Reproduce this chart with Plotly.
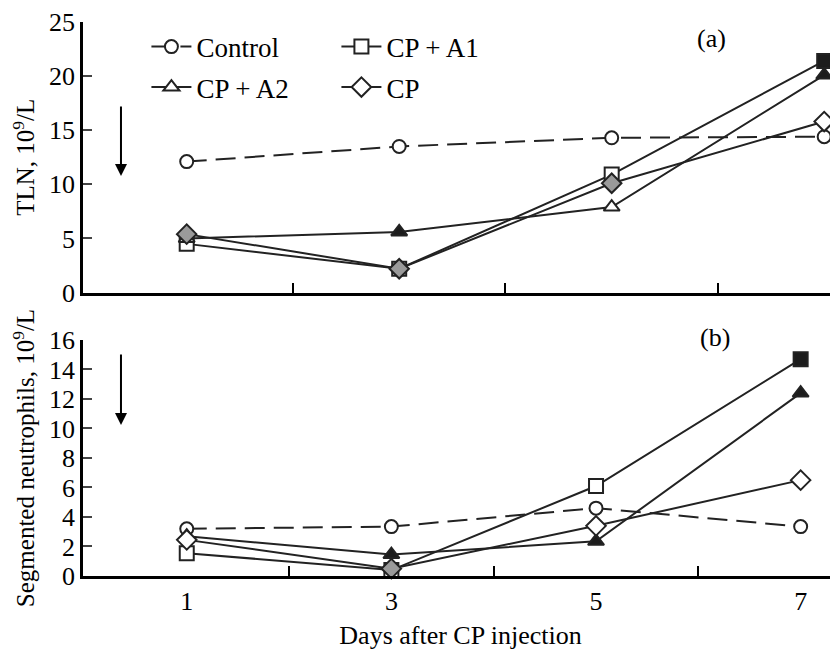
import plotly.graph_objects as go

days = [1, 3, 5, 7]
series_names = ["Control", "CP + A1", "CP + A2", "CP"]

# Panel (a): TLN, 10^9/L
tln_control = [12.1, 13.5, 14.3, 14.4]
tln_cp_a1 = [4.5, 2.2, 10.9, 21.4]
tln_cp_a2 = [5.0, 5.6, 7.9, 20.1]
tln_cp = [5.4, 2.2, 10.1, 15.8]

# Panel (b): Segmented neutrophils, 10^9/L
neu_control = [3.2, 3.35, 4.6, 3.35]
neu_cp_a1 = [1.55, 0.4, 6.1, 14.7]
neu_cp_a2 = [2.7, 1.45, 2.35, 12.4]
neu_cp = [2.45, 0.5, 3.4, 6.5]

y_ticks_a = [0, 5, 10, 15, 20, 25]
y_ticks_b = [0, 2, 4, 6, 8, 10, 12, 14, 16]
x_labels = [1, 3, 5, 7]
x_minor_ticks = [2, 4, 6]

# marker fill styles per point (open / gray / black)
W, G, K = "white", "#9a9a9a", "#1c1c1c"
fill_a = {
    "Control": [W, W, W, W],
    "CP + A1": [W, W, W, K],
    "CP + A2": [W, K, W, K],
    "CP": [G, G, G, W],
}
fill_b = {
    "Control": [W, W, W, W],
    "CP + A1": [W, W, W, K],
    "CP + A2": [W, K, K, K],
    "CP": [W, G, W, W],
}
symbols = {"Control": "circle", "CP + A1": "square", "CP + A2": "triangle-up", "CP": "diamond"}
sizes = {"Control": 13, "CP + A1": 14, "CP + A2": 14, "CP": 15}
dashes = {"Control": "20px,9px", "CP + A1": "solid", "CP + A2": "solid", "CP": "solid"}
legend_of = {"Control": "legend", "CP + A1": "legend", "CP + A2": "legend2", "CP": "legend2"}

data_a = dict(zip(series_names, [tln_control, tln_cp_a1, tln_cp_a2, tln_cp]))
data_b = dict(zip(series_names, [neu_control, neu_cp_a1, neu_cp_a2, neu_cp]))

LC = "#222222"
FONT = "Liberation Serif"

fig = go.Figure()
for name in series_names:
    fig.add_trace(go.Scatter(
        x=days, y=data_a[name], mode="lines+markers", name=name,
        xaxis="x2", yaxis="y2", showlegend=False, cliponaxis=False,
        line=dict(color=LC, width=2, dash=dashes[name]),
        marker=dict(symbol=symbols[name], size=sizes[name], color=fill_a[name],
                    line=dict(color=LC, width=2)),
    ))
for name in series_names:
    fig.add_trace(go.Scatter(
        x=days, y=data_b[name], mode="lines+markers", name=name,
        xaxis="x", yaxis="y", legend=legend_of[name], cliponaxis=False,
        line=dict(color=LC, width=2, dash=dashes[name]),
        marker=dict(symbol=symbols[name], size=sizes[name], color=fill_b[name],
                    line=dict(color=LC, width=2)),
    ))

axis_common = dict(showline=True, linecolor="black", linewidth=2.5, showgrid=False,
                   zeroline=False, tickfont=dict(family=FONT, size=26, color="black"))

legend_common = dict(orientation="h", xanchor="left", yanchor="top",
                     font=dict(family=FONT, size=27, color="black"),
                     bgcolor="rgba(0,0,0,0)", entrywidth=135, entrywidthmode="pixels",
                     tracegroupgap=0, itemwidth=40)

minor_ticks = dict(tickmode="array", tickvals=x_minor_ticks, ticks="inside",
                   ticklen=10, tickwidth=2, tickcolor="black")

fig.update_layout(
    width=830, height=642,
    margin=dict(l=75, r=0, t=11, b=70),
    paper_bgcolor="white", plot_bgcolor="white",
    font=dict(family=FONT, color="black"),
    xaxis=dict(**axis_common, domain=[0, 1], anchor="y", range=[-0.014, 7.365],
               tickmode="array", tickvals=x_labels, ticks="", minor=minor_ticks,
               title=dict(text="Days after CP injection", font=dict(family=FONT, size=26), standoff=16)),
    yaxis=dict(**axis_common, domain=[0, 0.426], anchor="x", range=[0, 16],
               tickmode="array", tickvals=y_ticks_b, ticks="inside", ticklen=9, tickwidth=2,
               title=dict(text="Segmented neutrophils, 10<sup>9</sup>/L",
                          font=dict(family=FONT, size=25), standoff=10)),
    xaxis2=dict(**axis_common, domain=[0, 1], anchor="y2", range=[0.024, 7.13],
                tickmode="array", tickvals=x_labels, ticks="", showticklabels=False,
                minor=minor_ticks),
    yaxis2=dict(**axis_common, domain=[0.5116, 1], anchor="x2", range=[0, 25],
                tickmode="array", tickvals=y_ticks_a, ticks="inside", ticklen=9, tickwidth=2,
                title=dict(text="TLN, 10<sup>9</sup>/L", font=dict(family=FONT, size=25), standoff=10)),
    legend=dict(**legend_common, x=0.084, y=0.999),
    legend2=dict(**legend_common, x=0.084, y=0.926),
    annotations=[
        dict(text="(a)", x=0.833, y=0.97, xref="paper", yref="paper", showarrow=False,
             xanchor="center", yanchor="middle",
             font=dict(family=FONT, size=26, color="black")),
        dict(text="(b)", x=0.837, y=0.43, xref="paper", yref="paper", showarrow=False,
             xanchor="center", yanchor="middle",
             font=dict(family=FONT, size=26, color="black")),
        dict(text="", x=0.0503, y=0.722, xref="paper", yref="paper", showarrow=True,
             ax=0, ay=-71, arrowhead=2, arrowsize=1.2, arrowwidth=2, arrowcolor="black"),
        dict(text="", x=0.0503, y=0.2727, xref="paper", yref="paper", showarrow=True,
             ax=0, ay=-72, arrowhead=2, arrowsize=1.2, arrowwidth=2, arrowcolor="black"),
    ],
)

fig.write_html("out.html")
